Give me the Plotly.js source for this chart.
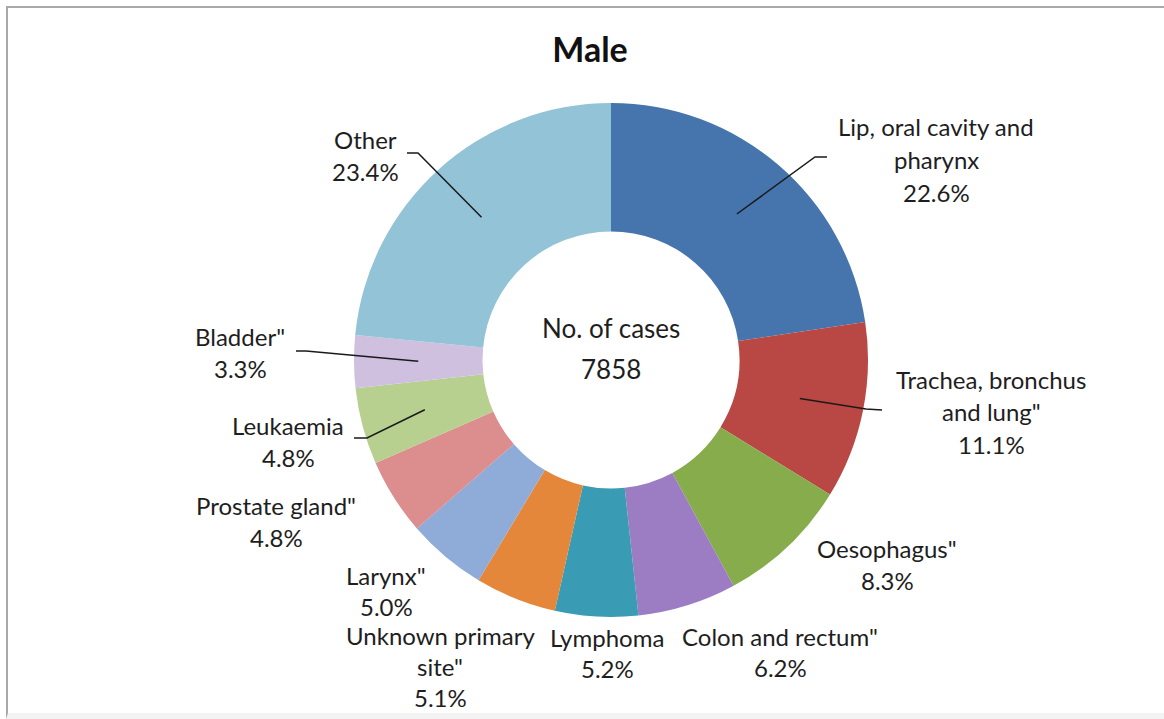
<!DOCTYPE html>
<html>
<head>
<meta charset="utf-8">
<script src="https://cdn.plot.ly/plotly-3.0.1.min.js"></script>
<style>
html,body{margin:0;padding:0;background:#fff;}
#chart{width:1164px;height:719px;position:relative;}
#frame{position:absolute;left:6px;top:6px;width:1170px;height:705px;border-left:2px solid #a9a9a9;border-top:2px solid #a9a9a9;border-bottom:6px solid #f3f3f3;pointer-events:none;}
</style>
</head>
<body>
<div id="chart"></div>
<div id="frame"></div>
<script>
// ---- data ----
var categories = ['Lip, oral cavity and pharynx', 'Trachea, bronchus and lung"', 'Oesophagus"', 'Colon and rectum"', 'Lymphoma', 'Unknown primary site"', 'Larynx"', 'Prostate gland"', 'Leukaemia', 'Bladder"', 'Other'];
var values = [22.6, 11.1, 8.3, 6.2, 5.2, 5.1, 5.0, 4.8, 4.8, 3.3, 23.4];
var labelLines = [
  ['Lip, oral cavity and', 'pharynx'],
  ['Trachea, bronchus', 'and lung"'],
  ['Oesophagus"'],
  ['Colon and rectum"'],
  ['Lymphoma'],
  ['Unknown primary', 'site"'],
  ['Larynx"'],
  ['Prostate gland"'],
  ['Leukaemia'],
  ['Bladder"'],
  ['Other']
];
var totalCases = 7858;
var centerLabel = 'No. of cases';
var titleText = 'Male';

// ---- styles / layout ----
var colors = ['#4675ae', '#b94744', '#86ac4c', '#9c7dc4', '#3a9bb5', '#e5873a', '#8fabd8', '#dc8d8e', '#b7d08f', '#cfc0e0', '#92c3d6'];
var W = 1164, H = 719;
var cx = 611, cy = 360, R = 257;
var mL = cx - R, mT = cy - R, size = 2 * R;
var mR = W - mL - size, mB = H - mT - size;
function px2x(px){ return (px - mL) / size; }
function py2y(py){ return (mT + size - py) / size; }

// label block positions (first-line centre, pixels) and line gaps
var labelPos = [
  [936, 127], [991, 379], [887, 548], [780, 636], [607, 637],
  [440, 635], [386, 575], [276, 505], [288, 425], [240, 336], [365, 139]
];
var lineGaps = [32.5, 32.5, 32, 31.5, 31.5, 31.5, 31.5, 32, 32, 33, 32.5];
// leader lines: label-side points in pixels (null = no leader)
var leaders = [
  [[827, 157], [815, 157]],
  [[882, 410], [866, 409]],
  null, null, null, null, null, null,
  [[354, 438], [367, 438]],
  [[296, 351], [306, 351]],
  [[407, 153], [418, 153]]
];

var textColor = '#1e1e1e';
var font = 'Lato, "Open Sans", sans-serif';
var annotations = [];
var shapes = [];
var total = values.reduce(function(a, b){ return a + b; }, 0);
var cum = 0;
for (var i = 0; i < values.length; i++) {
  var lines = labelLines[i].concat([values[i].toFixed(1) + '%']);
  for (var j = 0; j < lines.length; j++) {
    annotations.push({
      xref: 'paper', yref: 'paper',
      x: px2x(labelPos[i][0]), y: py2y(labelPos[i][1] + j * lineGaps[i]),
      xanchor: 'center', yanchor: 'middle',
      text: lines[j], showarrow: false,
      font: {family: font, size: 24, color: textColor}
    });
  }
  var mid = (cum + values[i] / 2) / total * 2 * Math.PI;
  cum += values[i];
  if (leaders[i]) {
    var tx = cx + 0.75 * R * Math.sin(mid);
    var ty = cy - 0.75 * R * Math.cos(mid);
    var p0 = leaders[i][0], p1 = leaders[i][1];
    shapes.push({
      type: 'path', xref: 'paper', yref: 'paper',
      path: 'M' + px2x(p0[0]) + ',' + py2y(p0[1]) + ' L' + px2x(p1[0]) + ',' + py2y(p1[1]) + ' L' + px2x(tx) + ',' + py2y(ty),
      line: {color: '#1a1a1a', width: 1.5}
    });
  }
}
annotations.push({xref: 'paper', yref: 'paper', x: px2x(cx), y: py2y(328), xanchor: 'center', yanchor: 'middle',
  text: centerLabel, showarrow: false, font: {family: font, size: 26, color: textColor}});
annotations.push({xref: 'paper', yref: 'paper', x: px2x(cx), y: py2y(369), xanchor: 'center', yanchor: 'middle',
  text: String(totalCases), showarrow: false, font: {family: font, size: 26, color: textColor}});

var trace = {
  type: 'pie',
  labels: categories,
  values: values,
  hole: 0.5,
  sort: false,
  direction: 'clockwise',
  rotation: 0,
  textinfo: 'none',
  hoverinfo: 'label+percent',
  marker: {colors: colors, line: {width: 0}},
  showlegend: false
};

var layout = {
  width: W, height: H,
  margin: {l: mL, r: mR, t: mT, b: mB, pad: 0},
  paper_bgcolor: '#ffffff',
  title: {text: '<b>' + titleText + '</b>', xref: 'container', yref: 'container',
    x: 590 / W, y: 1 - 50 / H, xanchor: 'center', yanchor: 'middle',
    font: {family: font, size: 34, color: '#111'}},
  annotations: annotations,
  shapes: shapes,
  showlegend: false
};

Plotly.newPlot('chart', [trace], layout, {displayModeBar: false, staticPlot: true});
</script>
</body>
</html>
